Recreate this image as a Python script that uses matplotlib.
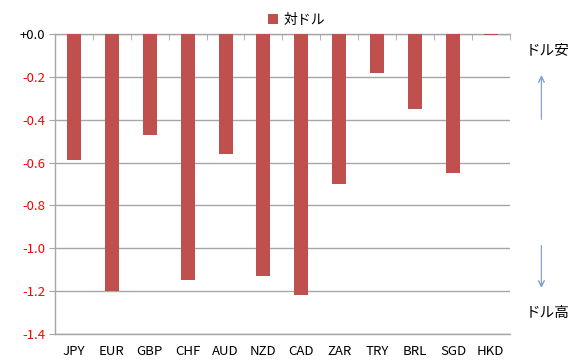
import numpy as np
import matplotlib.pyplot as plt
from matplotlib.patches import Patch

plt.rcParams['font.family'] = ['Noto Sans CJK JP', 'DejaVu Sans']

currencies = ["JPY", "EUR", "GBP", "CHF", "AUD", "NZD", "CAD", "ZAR", "TRY", "BRL", "SGD", "HKD"]
vs_usd = [-0.59, -1.20, -0.47, -1.15, -0.56, -1.13, -1.22, -0.70, -0.18, -0.35, -0.65, -0.005]
yticks = [0.0, -0.2, -0.4, -0.6, -0.8, -1.0, -1.2, -1.4]
series_name = "対ドル"

bar_color = "#C0504D"
grid_color = "#A6A6A6"

fig = plt.figure(figsize=(5.76, 3.63), dpi=100)
ax = fig.add_axes([0.0955, 0.0799, 0.7895, 0.8264])

x = np.arange(len(currencies))
ax.bar(x, vs_usd, width=0.37, color=bar_color, zorder=3)

ax.set_xlim(-0.5, len(currencies) - 0.5)
ax.set_ylim(-1.4, 0.0)

ax.set_yticks(yticks)
ylabels = ["+0.0" if v == 0 else f"{v:.1f}" for v in yticks]
ax.set_yticklabels(ylabels, fontsize=9.5)
ax.tick_params(axis="y", length=4, color=grid_color, labelcolor="red", pad=3)
ax.yaxis.grid(True, color=grid_color, linewidth=1.0, zorder=0)

# category labels at the bottom, boundary ticks on the zero line
ax.set_xticks(x)
ax.set_xticklabels(currencies, fontsize=9.5)
ax.tick_params(axis="x", which="major", length=0, pad=8)
ax.set_xticks(np.arange(-0.5, len(currencies)), minor=True)
ax.tick_params(axis="x", which="minor", bottom=False, top=True,
               direction="in", length=4, color=grid_color)

ax.spines["right"].set_visible(False)
for side in ["top", "left", "bottom"]:
    ax.spines[side].set_color(grid_color)
    ax.spines[side].set_linewidth(1.0)

# only the zero label stays black
fig.canvas.draw()
for tick in ax.yaxis.get_major_ticks():
    if abs(tick.get_loc()) < 1e-9:
        tick.label1.set_color("black")

# legend above the plot
handle = Patch(facecolor=bar_color, edgecolor="none")
fig.legend([handle], [series_name], loc="upper center", bbox_to_anchor=(0.515, 1.0),
           frameon=False, fontsize=10, handlelength=0.7, handleheight=0.7,
           handletextpad=0.4)

# direction notes on the right
arrow_color = "#7FA3D4"
fig.text(0.950, 0.862, "ドル安", ha="center", va="center", fontsize=10.5)
fig.text(0.950, 0.137, "ドル高", ha="center", va="center", fontsize=10.5)
fig.add_artist(plt.annotate("", xy=(0.940, 0.800), xytext=(0.940, 0.664),
                            xycoords="figure fraction",
                            arrowprops=dict(arrowstyle="->", color=arrow_color, lw=0.8)))
fig.add_artist(plt.annotate("", xy=(0.940, 0.200), xytext=(0.940, 0.331),
                            xycoords="figure fraction",
                            arrowprops=dict(arrowstyle="->", color=arrow_color, lw=0.8)))

fig.savefig("out.png", dpi=100)
